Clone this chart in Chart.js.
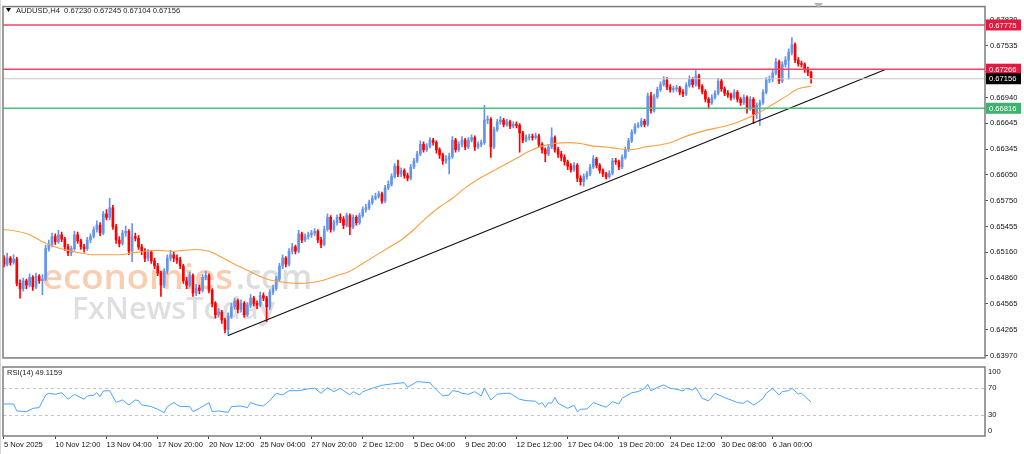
<!DOCTYPE html>
<html><head><meta charset="utf-8">
<script src="https://cdn.jsdelivr.net/npm/chart.js@4.4.1/dist/chart.umd.min.js"></script>
<style>
html,body{margin:0;padding:0;background:#fff;width:1024px;height:454px;overflow:hidden}
#c1{position:absolute;left:0;top:0}
#c2{position:absolute;left:0;top:365px}
</style></head><body>
<canvas id="c1" width="1024" height="365"></canvas>
<canvas id="c2" width="1024" height="89"></canvas>
<script>
// ---------- DATA (AUDUSD H4) ----------
const opens = [
0.6509,0.6502,0.6509,0.6504,0.6508,0.6480,0.6474,0.6483,0.6478,0.6487,
0.6476,0.6488,0.6483,0.6485,0.6520,0.6525,0.6534,0.6528,0.6536,0.6531,
0.6522,0.6515,0.6520,0.6536,0.6529,0.6522,0.6520,0.6530,0.6534,0.6542,
0.6547,0.6538,0.6560,0.6556,0.6567,0.6545,0.6530,0.6526,0.6538,0.6540,
0.6517,0.6534,0.6532,0.6522,0.6517,0.6509,0.6516,0.6506,0.6500,0.6492,
0.6478,0.6494,0.6509,0.6513,0.6509,0.6507,0.6500,0.6483,0.6478,0.6489,
0.6469,0.6475,0.6472,0.6487,0.6489,0.6472,0.6457,0.6444,0.6447,0.6438,
0.6427,0.6442,0.6453,0.6460,0.6450,0.6457,0.6444,0.6455,0.6463,0.6457,
0.6455,0.6466,0.6463,0.6453,0.6470,0.6474,0.6485,0.6500,0.6509,0.6502,
0.6517,0.6522,0.6517,0.6537,0.6530,0.6534,0.6536,0.6538,0.6540,0.6530,
0.6525,0.6542,0.6556,0.6542,0.6550,0.6556,0.6554,0.6547,0.6558,0.6545,
0.6556,0.6550,0.6558,0.6565,0.6567,0.6573,0.6578,0.6580,0.6583,0.6575,
0.6590,0.6594,0.6603,0.6615,0.6606,0.6610,0.6604,0.6601,0.6614,0.6621,
0.6629,0.6640,0.6634,0.6638,0.6645,0.6642,0.6634,0.6628,0.6621,0.6623,
0.6626,0.6645,0.6634,0.6640,0.6645,0.6637,0.6645,0.6648,0.6637,0.6640,
0.6642,0.6668,0.6669,0.6637,0.6657,0.6666,0.6668,0.6663,0.6666,0.6661,
0.6663,0.6662,0.6653,0.6645,0.6648,0.6649,0.6648,0.6650,0.6640,0.6634,
0.6629,0.6637,0.6648,0.6634,0.6629,0.6625,0.6620,0.6615,0.6611,0.6616,
0.6601,0.6597,0.6603,0.6606,0.6614,0.6623,0.6616,0.6610,0.6606,0.6603,
0.6607,0.6621,0.6620,0.6614,0.6625,0.6634,0.6644,0.6654,0.6661,0.6662,
0.6667,0.6663,0.6696,0.6679,0.6695,0.6703,0.6709,0.6714,0.6706,0.6703,
0.6704,0.6705,0.6700,0.6698,0.6708,0.6715,0.6709,0.6719,0.6707,0.6701,
0.6692,0.6688,0.6694,0.6699,0.6713,0.6704,0.6699,0.6697,0.6694,0.6700,
0.6692,0.6688,0.6694,0.6681,0.6692,0.6675,0.6685,0.6688,0.6700,0.6714,
0.6715,0.6722,0.6735,0.6713,0.6732,0.6737,0.6746,0.6755,0.6737,0.6733,
0.6732,0.6726,0.67230];
const highs = [
0.6512,0.6515,0.6511,0.6513,0.6510,0.6484,0.6486,0.6485,0.6491,0.6489,
0.6492,0.6490,0.6490,0.6524,0.6530,0.6538,0.6537,0.6541,0.6539,0.6533,
0.6525,0.6523,0.6540,0.6539,0.6531,0.6525,0.6533,0.6537,0.6545,0.6552,
0.6550,0.6563,0.6565,0.6578,0.6570,0.6548,0.6534,0.6541,0.6546,0.6542,
0.6549,0.6538,0.6535,0.6525,0.6520,0.6519,0.6518,0.6509,0.6503,0.6494,
0.6497,0.6513,0.6518,0.6516,0.6513,0.6510,0.6502,0.6487,0.6493,0.6491,
0.6479,0.6478,0.6490,0.6494,0.6491,0.6474,0.6459,0.6451,0.6449,0.6440,
0.6446,0.6457,0.6463,0.6462,0.6461,0.6459,0.6458,0.6467,0.6465,0.6460,
0.6470,0.6469,0.6465,0.6473,0.6478,0.6488,0.6503,0.6513,0.6511,0.6520,
0.6526,0.6524,0.6541,0.6539,0.6537,0.6539,0.6541,0.6543,0.6542,0.6533,
0.6546,0.6560,0.6558,0.6553,0.6559,0.6560,0.6557,0.6561,0.6560,0.6559,
0.6558,0.6561,0.6568,0.6571,0.6576,0.6581,0.6584,0.6586,0.6585,0.6593,
0.6598,0.6606,0.6618,0.6622,0.6613,0.6612,0.6607,0.6617,0.6624,0.6632,
0.6644,0.6643,0.6641,0.6648,0.6647,0.6644,0.6636,0.6630,0.6627,0.6630,
0.6649,0.6647,0.6643,0.6649,0.6647,0.6648,0.6651,0.6650,0.6643,0.6645,
0.6685,0.6673,0.6671,0.6660,0.6669,0.6672,0.6670,0.6669,0.6668,0.6666,
0.6666,0.6664,0.6655,0.6651,0.6652,0.6652,0.6653,0.6652,0.6642,0.6636,
0.6640,0.6659,0.6650,0.6637,0.6632,0.6628,0.6622,0.6618,0.6619,0.6618,
0.6604,0.6606,0.6609,0.6617,0.6627,0.6625,0.6618,0.6612,0.6608,0.6610,
0.6624,0.6624,0.6622,0.6628,0.6637,0.6647,0.6657,0.6664,0.6665,0.6670,
0.6669,0.6699,0.6700,0.6698,0.6706,0.6712,0.6718,0.6717,0.6709,0.6707,
0.6708,0.6707,0.6703,0.6711,0.6719,0.6717,0.6725,0.6721,0.6709,0.6703,
0.6694,0.6697,0.6702,0.6716,0.6715,0.6706,0.6702,0.6699,0.6703,0.6702,
0.6694,0.6697,0.6696,0.6695,0.6694,0.6688,0.6691,0.6703,0.6717,0.6719,
0.6726,0.6739,0.6737,0.6735,0.6741,0.6750,0.6763,0.6757,0.6740,0.6736,
0.6734,0.6729,0.67245];
const lows = [
0.6499,0.6500,0.6501,0.6502,0.6477,0.6463,0.6471,0.6474,0.6476,0.6472,
0.6474,0.6480,0.6467,0.6483,0.6517,0.6522,0.6525,0.6526,0.6528,0.6518,
0.6512,0.6512,0.6518,0.6526,0.6519,0.6516,0.6518,0.6527,0.6532,0.6539,
0.6535,0.6536,0.6553,0.6553,0.6542,0.6526,0.6522,0.6524,0.6534,0.6513,
0.6505,0.6529,0.6519,0.6513,0.6505,0.6506,0.6503,0.6497,0.6489,0.6465,
0.6475,0.6491,0.6506,0.6505,0.6503,0.6497,0.6480,0.6474,0.6476,0.6465,
0.6466,0.6468,0.6470,0.6484,0.6469,0.6453,0.6440,0.6441,0.6434,0.6423,
0.6420,0.6440,0.6450,0.6446,0.6447,0.6441,0.6442,0.6452,0.6454,0.6451,
0.6453,0.6460,0.6436,0.6450,0.6467,0.6472,0.6483,0.6497,0.6499,0.6500,
0.6514,0.6514,0.6515,0.6527,0.6528,0.6531,0.6533,0.6535,0.6527,0.6521,
0.6523,0.6540,0.6539,0.6540,0.6547,0.6550,0.6543,0.6545,0.6536,0.6543,
0.6547,0.6548,0.6556,0.6562,0.6565,0.6571,0.6576,0.6578,0.6572,0.6573,
0.6588,0.6592,0.6601,0.6603,0.6603,0.6601,0.6598,0.6599,0.6612,0.6619,
0.6627,0.6631,0.6632,0.6636,0.6639,0.6630,0.6624,0.6617,0.6618,0.6606,
0.6624,0.6631,0.6632,0.6637,0.6634,0.6635,0.6643,0.6633,0.6635,0.6637,
0.6640,0.6664,0.6625,0.6635,0.6655,0.6663,0.6660,0.6661,0.6658,0.6659,
0.6659,0.6631,0.6642,0.6643,0.6645,0.6645,0.6646,0.6637,0.6630,0.6620,
0.6627,0.6635,0.6631,0.6625,0.6621,0.6616,0.6611,0.6608,0.6609,0.6597,
0.6593,0.6592,0.6600,0.6604,0.6612,0.6613,0.6607,0.6603,0.6600,0.6601,
0.6605,0.6617,0.6611,0.6612,0.6623,0.6632,0.6642,0.6652,0.6659,0.6660,
0.6660,0.6661,0.6676,0.6677,0.6693,0.6701,0.6707,0.6703,0.6700,0.6700,
0.6701,0.6697,0.6695,0.6696,0.6706,0.6706,0.6707,0.6704,0.6698,0.6689,
0.6681,0.6686,0.6692,0.6697,0.6701,0.6696,0.6694,0.6691,0.6692,0.6689,
0.6685,0.6686,0.6676,0.6679,0.6664,0.6670,0.6662,0.6686,0.6698,0.6711,
0.6712,0.6720,0.6710,0.6711,0.6729,0.6715,0.6743,0.6734,0.6730,0.6729,
0.6723,0.6719,0.67104];
const closes = [
0.6502,0.6509,0.6504,0.6508,0.6480,0.6474,0.6483,0.6478,0.6487,0.6476,
0.6488,0.6483,0.6485,0.6520,0.6525,0.6534,0.6528,0.6536,0.6531,0.6522,
0.6515,0.6520,0.6536,0.6529,0.6522,0.6520,0.6530,0.6534,0.6542,0.6547,
0.6538,0.6560,0.6556,0.6567,0.6545,0.6530,0.6526,0.6538,0.6540,0.6517,
0.6534,0.6532,0.6522,0.6517,0.6509,0.6516,0.6506,0.6500,0.6492,0.6478,
0.6494,0.6509,0.6513,0.6509,0.6507,0.6500,0.6483,0.6478,0.6489,0.6469,
0.6475,0.6472,0.6487,0.6489,0.6472,0.6457,0.6444,0.6447,0.6438,0.6427,
0.6442,0.6453,0.6460,0.6450,0.6457,0.6444,0.6455,0.6463,0.6457,0.6455,
0.6466,0.6463,0.6453,0.6470,0.6474,0.6485,0.6500,0.6509,0.6502,0.6517,
0.6522,0.6517,0.6537,0.6530,0.6534,0.6536,0.6538,0.6540,0.6530,0.6525,
0.6542,0.6556,0.6542,0.6550,0.6556,0.6554,0.6547,0.6558,0.6545,0.6556,
0.6550,0.6558,0.6565,0.6567,0.6573,0.6578,0.6580,0.6583,0.6575,0.6590,
0.6594,0.6603,0.6615,0.6606,0.6610,0.6604,0.6601,0.6614,0.6621,0.6629,
0.6640,0.6634,0.6638,0.6645,0.6642,0.6634,0.6628,0.6621,0.6623,0.6626,
0.6645,0.6634,0.6640,0.6645,0.6637,0.6645,0.6648,0.6637,0.6640,0.6642,
0.6668,0.6669,0.6637,0.6657,0.6666,0.6668,0.6663,0.6666,0.6661,0.6663,
0.6662,0.6653,0.6645,0.6648,0.6649,0.6648,0.6650,0.6640,0.6634,0.6629,
0.6637,0.6648,0.6634,0.6629,0.6625,0.6620,0.6615,0.6611,0.6616,0.6601,
0.6597,0.6603,0.6606,0.6614,0.6623,0.6616,0.6610,0.6606,0.6603,0.6607,
0.6621,0.6620,0.6614,0.6625,0.6634,0.6644,0.6654,0.6661,0.6662,0.6667,
0.6663,0.6696,0.6679,0.6695,0.6703,0.6709,0.6714,0.6706,0.6703,0.6704,
0.6705,0.6700,0.6698,0.6708,0.6715,0.6709,0.6719,0.6707,0.6701,0.6692,
0.6688,0.6694,0.6699,0.6713,0.6704,0.6699,0.6697,0.6694,0.6700,0.6692,
0.6688,0.6694,0.6681,0.6692,0.6675,0.6685,0.6688,0.6700,0.6714,0.6715,
0.6722,0.6735,0.6713,0.6732,0.6737,0.6746,0.6755,0.6737,0.6733,0.6732,
0.6726,0.6723,0.67156];

// moving average (orange), one reading every maStep bars
const maStep = 4;
const maVals = [
0.6542,0.6540,0.6536,0.6528,0.6522,0.6518,0.6515,0.6513,0.6513,0.6513,
0.6515,0.6517,0.6518,0.6517,0.6518,0.6519,0.6517,0.6510,0.6502,0.6495,
0.6488,0.6483,0.6481,0.6480,0.6481,0.6484,0.6489,0.6494,0.6503,0.6512,
0.6521,0.6530,0.6542,0.6556,0.6568,0.6578,0.6590,0.6600,0.6608,0.6616,
0.6624,0.6632,0.6638,0.6641,0.6642,0.6641,0.6638,0.6637,0.6635,0.6634,
0.6637,0.6639,0.6642,0.6648,0.6653,0.6657,0.6660,0.6664,0.6670,0.6677,
0.6686,0.6695,0.6704,0.6707];

// trend line anchors (bar index, price)
const trendX = [70, 275];
const trendY = [0.6420, 0.6726];

// horizontal levels
const levelVals = [0.67775, 0.67266, 0.66816];
const levelLineColors = ['#EE4466', '#EE4466', '#4CC080'];
const levelBoxColors = ['#E3193F', '#E3193F', '#3DB36F'];
const bidPrice = 0.67156;

// price-axis tick labels
const priceTicks = [0.67830,0.67535,0.67240,0.66940,0.66645,0.66345,0.66050,0.65750,0.65455,0.65160,0.64860,0.64565,0.64265,0.63970];

// time-axis ticks (bar index) and labels
const tickIdx = [0,16,32,48,64,80,96,112,128,144,160,176,192,208,224,240];
const tickLabels = ['5 Nov 2025','10 Nov 12:00','13 Nov 04:00','17 Nov 20:00','20 Nov 12:00','25 Nov 04:00','27 Nov 20:00','2 Dec 12:00','5 Dec 04:00','9 Dec 20:00','12 Dec 12:00','17 Dec 04:00','19 Dec 20:00','24 Dec 12:00','30 Dec 08:00','6 Jan 00:00'];

// RSI(14) readings
const rsiBars = [0,3,4,7,9,11,13,14,16,18,20,22,25,26,28,29,30,31,33,35,37,39,41,42,43,46,48,50,51,53,55,58,59,61,64,65,67,70,71,74,76,77,79,81,83,85,87,89,92,96,97,99,101,103,105,108,109,111,112,115,118,121,125,126,129,133,134,137,139,140,142,143,145,147,149,150,152,154,156,158,161,163,166,167,168,169,170,171,172,173,176,178,179,180,182,184,186,188,190,192,193,196,198,200,201,202,204,206,208,210,212,213,215,216,218,220,222,225,227,229,231,232,234,235,237,238,240,242,243,245,246,248,249,252];
const rsiVals = [46.4,46.4,36.3,35.3,40.1,41.1,59.5,61.9,60.4,62.8,53.2,60.4,53.2,58,59,62.8,57,65.3,65.7,48.8,52.2,45,52.2,51.3,45,42.6,38.7,33.9,42.6,48.4,42.6,42.6,35.3,40.1,48.4,35.3,36.3,34.3,42.6,43.5,41.1,48.4,45,43.5,51.3,61.9,59.5,65.7,65.7,69.1,69.1,61.9,70.1,64.3,69.1,59.5,64.3,59.5,64.3,69.1,73.5,75.4,77.3,70.6,78.8,77.3,71.5,58,59.5,65.7,64.3,61.9,60.4,64.3,58,69.1,52.2,60.4,61.9,61.9,53.2,51.3,50.3,45.9,48.4,41.6,48.4,47.4,55.6,47.4,40.1,44.5,35.3,38.7,39.2,48.4,45,41.6,49.8,46.4,54.6,62.8,64.3,69.1,74.9,65.3,70.6,74,69.1,67.7,65.3,69.1,66.7,70.1,54.6,50.8,61.9,55.6,52.2,48.4,47.4,51.3,45,47.4,54.6,61.9,69.1,59.5,64.3,65.7,69.1,60.9,61.9,49.1159];
const rsiLevels = [70, 30];
const rsiAxisLabels = [100, 70, 30, 0];

const symbolTitle = 'AUDUSD,H4  0.67230 0.67245 0.67104 0.67156';
const rsiTitle = 'RSI(14) 49.1159';

// ---------- STYLE ----------
const FONT = "'Liberation Sans', Arial, sans-serif";
const FS = 7.6;
const BULL = '#6495ED', BEAR = '#FF0000';
const FRAME = '#7d7d7d';
const X_MIN = -0.31, X_MAX = 306.3;

const bars = closes.map((_, i) => i);
const candleColor = c => closes[c.dataIndex] >= opens[c.dataIndex] ? BULL : BEAR;

const mainDeco = {
  id: 'mainDeco',
  beforeDatasetsDraw(chart) {
    const g = chart.ctx;
    g.save();
    g.textBaseline = 'alphabetic';
    const fit = (txt, x, y, w, size, color, weight) => {
      g.font = weight + ' ' + size + "px 'Open Sans', 'DejaVu Sans', sans-serif";
      const m = g.measureText(txt).width;
      g.save(); g.translate(x, y); g.scale(w / m, 1);
      g.fillStyle = color; g.fillText(txt, 0, 0); g.restore();
    };
    fit('economies', 42, 289, 191, 35, '#f9cdb0', '600');
    fit('.com', 236, 289, 76, 35, '#dddddd', '600');
    fit('FxNewsToday', 72, 319, 203, 30, '#dfdfdf', '600');
    g.restore();
  },
  afterDatasetsDraw(chart) {
    const g = chart.ctx, a = chart.chartArea, y = chart.scales.y;
    g.save();
    const hl = (v, col, w) => {
      const py = y.getPixelForValue(v);
      g.lineWidth = w;
      g.strokeStyle = col; g.beginPath(); g.moveTo(a.left, py); g.lineTo(a.right, py); g.stroke();
    };
    hl(bidPrice, '#c8c8c8', 1);
    levelVals.forEach((v, k) => hl(v, levelLineColors[k], 1.5));
    g.restore();
  },
  afterDraw(chart) {
    const g = chart.ctx, a = chart.chartArea, y = chart.scales.y;
    g.save();
    // pane frame
    g.strokeStyle = FRAME; g.lineWidth = 1.5;
    g.strokeRect(a.left, a.top, a.right - a.left, a.bottom - a.top - 0.5);
    g.strokeStyle = '#d6d6d6'; g.lineWidth = 1;
    g.beginPath(); g.moveTo(0.5, 0); g.lineTo(0.5, chart.height); g.stroke();
    // price boxes on the axis
    g.font = FS + 'px ' + FONT; g.textBaseline = 'middle'; g.textAlign = 'left';
    const box = (v, bg) => {
      const py = y.getPixelForValue(v);
      g.fillStyle = bg; g.fillRect(a.right + 1, py - 5.5, 35, 11);
      g.fillStyle = '#fff'; g.fillText(v.toFixed(5), a.right + 4, py + 0.5);
    };
    levelVals.forEach((v, k) => box(v, levelBoxColors[k]));
    box(bidPrice, '#000');
    // title
    g.fillStyle = '#000';
    g.beginPath(); g.moveTo(6, 8); g.lineTo(11, 8); g.lineTo(8.5, 12); g.closePath(); g.fill();
    g.fillStyle = '#222'; g.fillText(symbolTitle, 16, 10.5);
    // chart-shift marker
    g.fillStyle = '#b5b5b5';
    g.beginPath(); g.moveTo(814, 3); g.lineTo(823, 3); g.lineTo(818.5, 8); g.closePath(); g.fill();
    g.restore();
  }
};

new Chart(document.getElementById('c1'), {
  type: 'bar',
  data: { datasets: [
    { type: 'line', data: maVals.map((v, k) => ({ x: k * maStep, y: v })), borderColor: '#F8A040', borderWidth: 1.1, pointRadius: 0, cubicInterpolationMode: 'monotone', order: 0 },
    { type: 'line', data: trendX.map((x, k) => ({ x: x, y: trendY[k] })), borderColor: '#111', borderWidth: 1.2, pointRadius: 0, order: 0 },
    { data: bars.map(i => ({ x: i, y: [lows[i], highs[i]] })), backgroundColor: candleColor, barThickness: 1, grouped: false, minBarLength: 1, borderWidth: 0, order: 2 },
    { data: bars.map(i => ({ x: i, y: [opens[i], closes[i]] })), backgroundColor: candleColor, barThickness: 2, grouped: false, minBarLength: 1, borderWidth: 0, order: 1 }
  ]},
  options: {
    responsive: false, animation: false, events: [],
    layout: { padding: { left: 3, top: 3, right: 0, bottom: 0 } },
    plugins: { legend: { display: false }, tooltip: { enabled: false } },
    scales: {
      x: { type: 'linear', min: X_MIN, max: X_MAX, offset: false, display: false },
      y: { type: 'linear', position: 'right', min: 0.63936, max: 0.67987,
        afterFit(s) { s.width = 39; },
        afterBuildTicks(s) { s.ticks = priceTicks.map(v => ({ value: v })); },
        ticks: { callback: v => Number(v).toFixed(5), font: { family: FONT, size: FS }, color: '#111', padding: 2 },
        grid: { drawOnChartArea: false, drawTicks: true, tickLength: 3, color: '#555' },
        border: { display: false } }
    }
  },
  plugins: [mainDeco]
});

const rsiDeco = {
  id: 'rsiDeco',
  beforeDatasetsDraw(chart) {
    const g = chart.ctx, a = chart.chartArea, y = chart.scales.y;
    g.save(); g.strokeStyle = '#c4c4c4'; g.lineWidth = 1; g.setLineDash([3, 3]);
    rsiLevels.forEach(v => {
      const py = Math.round(y.getPixelForValue(v)) + 0.5;
      g.beginPath(); g.moveTo(a.left, py); g.lineTo(a.right, py); g.stroke();
    });
    g.restore();
  },
  afterDraw(chart) {
    const g = chart.ctx, a = chart.chartArea, y = chart.scales.y;
    g.save();
    g.strokeStyle = FRAME; g.lineWidth = 1.5;
    g.strokeRect(a.left, a.top, a.right - a.left, a.bottom - a.top);
    g.strokeStyle = '#d6d6d6'; g.lineWidth = 1;
    g.beginPath(); g.moveTo(0.5, 0); g.lineTo(0.5, chart.height); g.stroke();
    g.font = FS + 'px ' + FONT; g.textBaseline = 'middle'; g.textAlign = 'left'; g.fillStyle = '#111';
    rsiAxisLabels.forEach(v => {
      let py = y.getPixelForValue(v);
      py = Math.min(Math.max(py, a.top + 5), a.bottom - 5);
      g.fillText(String(v), a.right + 3, py);
    });
    g.fillStyle = '#222';
    g.fillText(rsiTitle, 7, a.top + 6);
    g.restore();
  }
};

new Chart(document.getElementById('c2'), {
  type: 'line',
  data: { datasets: [
    { data: rsiBars.map((b, k) => ({ x: b, y: rsiVals[k] })), borderColor: '#4AA3FF', borderWidth: 1, pointRadius: 0, tension: 0 }
  ]},
  options: {
    responsive: false, animation: false, events: [],
    layout: { padding: { left: 3, top: 2, right: 39, bottom: 0 } },
    plugins: { legend: { display: false }, tooltip: { enabled: false } },
    scales: {
      x: { type: 'linear', min: X_MIN, max: X_MAX, offset: false, position: 'bottom',
        afterFit(s) { s.height = 18; },
        afterBuildTicks(s) { s.ticks = tickIdx.map(v => ({ value: v })); },
        ticks: { autoSkip: false, maxRotation: 0, align: 'start', padding: 1,
          font: { family: FONT, size: FS }, color: '#111',
          callback: v => tickLabels[tickIdx.indexOf(v)] },
        grid: { drawOnChartArea: false, drawTicks: true, tickLength: 3, color: '#444' },
        border: { display: false } },
      y: { min: 0, max: 100, display: false }
    }
  },
  plugins: [rsiDeco]
});
</script>
</body></html>
